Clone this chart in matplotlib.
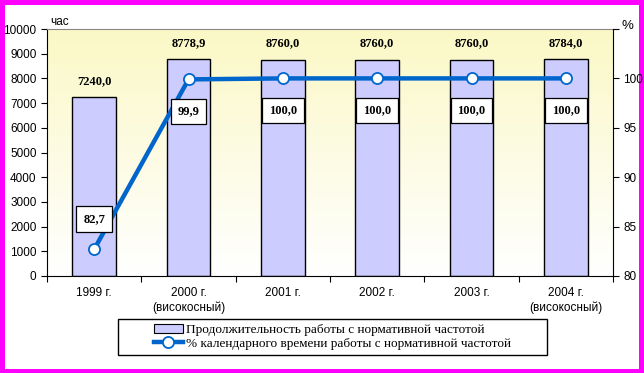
import numpy as np
import matplotlib.pyplot as plt
from matplotlib.patches import Rectangle, Patch
from matplotlib.lines import Line2D
from matplotlib.colors import LinearSegmentedColormap

years = ["1999 г.", "2000 г.\n(високосный)", "2001 г.", "2002 г.", "2003 г.", "2004 г.\n(високосный)"]
hours = [7240.0, 8778.9, 8760.0, 8760.0, 8760.0, 8784.0]
percent = [82.7, 99.9, 100.0, 100.0, 100.0, 100.0]
bar_labels = ["7240,0", "8778,9", "8760,0", "8760,0", "8760,0", "8784,0"]
pct_labels = ["82,7", "99,9", "100,0", "100,0", "100,0", "100,0"]

W, H = 644, 373
fig = plt.figure(figsize=(W / 100, H / 100), dpi=100)
fig.patch.set_facecolor("#FF00FF")
fig.patches.append(Rectangle((5 / W, 4 / H), (W - 10) / W, (H - 9) / H,
                             transform=fig.transFigure, facecolor="white",
                             edgecolor="none", zorder=-5))
# legend frame
fig.patches.append(Rectangle((118 / W, 1 - 355 / H), 429 / W, 36 / H,
                             transform=fig.transFigure, facecolor="white",
                             edgecolor="black", linewidth=1, zorder=-4))

left, right, top, bottom = 47, 613, 29, 276
ax = fig.add_axes([left / W, (H - bottom) / H, (right - left) / W, (bottom - top) / H])
ax2 = ax.twinx()

x = np.arange(len(years))

# pale yellow gradient background
cmap = LinearSegmentedColormap.from_list("bg", ["#FFFFFF", "#FBF8C6"])
grad = np.linspace(0, 1, 256).reshape(-1, 1)
ax.imshow(grad, cmap=cmap, origin="lower", aspect="auto",
          extent=(-0.5, 5.5, 0, 10000), zorder=0)

ax.bar(x, hours, width=0.465, color="#CCCCFF", edgecolor="black", linewidth=1, zorder=2)
for xi, h, lab in zip(x, hours, bar_labels):
    ax.annotate(lab, (xi, h), xytext=(0, 16), textcoords="offset pixels",
                ha="center", va="center", fontsize=9, fontweight="bold",
                family="Liberation Serif", zorder=5)

ax.set_xlim(-0.5, 5.5)
ax.set_ylim(0, 10000)
ax.set_yticks(range(0, 10001, 1000))
ax.set_xticks(np.arange(-0.5, 6, 1))
ax.set_xticklabels([])
ax.set_xticks(x, minor=True)
ax.set_xticklabels(years, minor=True, fontsize=8.5, family="Liberation Sans")
ax.tick_params(axis="x", which="major", length=4, direction="out")
ax.tick_params(axis="x", which="minor", length=0, pad=8)
ax.tick_params(axis="y", labelsize=8.5, length=4, direction="out")
for t in ax.get_yticklabels():
    t.set_family("Liberation Sans")
ax.spines["right"].set_visible(False)
ax.spines["top"].set_color("#888888")

ax2.plot(x, percent, color="#0066CC", linewidth=3.2, marker="o", markersize=8,
         markerfacecolor="white", markeredgecolor="#0066CC", markeredgewidth=1.3,
         zorder=4)
for i, (xi, p, lab) in enumerate(zip(x, percent, pct_labels)):
    dy = 30 if i == 0 else -32
    ax2.annotate(lab, (xi, p), xytext=(0, dy), textcoords="offset pixels",
                 ha="center", va="center", fontsize=9, fontweight="bold",
                 family="Liberation Serif",
                 bbox=dict(boxstyle="square,pad=0.55", fc="white", ec="black", lw=0.9),
                 zorder=6)
ax2.set_ylim(80, 105)
ax2.set_yticks([80, 85, 90, 95, 100, 105])
ax2.set_yticklabels(["80", "85", "90", "95", "100", ""])
ax2.tick_params(axis="y", labelsize=8.5, length=4, direction="out")
for t in ax2.get_yticklabels():
    t.set_family("Liberation Sans")
for s in ["top", "left", "bottom"]:
    ax2.spines[s].set_visible(False)
ax2.set_zorder(ax.get_zorder() + 1)
ax2.patch.set_visible(False)

fig.text(50 / W, 1 - 22 / H, "час", fontsize=8.5, family="Liberation Sans", va="center")
fig.text(622 / W, 1 - 26 / H, "%", fontsize=9.5, family="Liberation Sans", va="center")

handles = [
    Patch(facecolor="#CCCCFF", edgecolor="black", linewidth=0.8),
    Line2D([], [], color="#0066CC", linewidth=3.2, marker="o", markersize=8,
           markerfacecolor="white", markeredgecolor="#0066CC", markeredgewidth=1.3),
]
labels = ["Продолжительность работы с нормативной частотой",
          "% календарного времени работы с нормативной частотой"]
leg = fig.legend(handles, labels, loc="center left", bbox_to_anchor=(150 / W, 1 - 337 / H),
                 frameon=False, prop={"family": "Liberation Serif", "size": 9.5},
                 handlelength=2.2, handletextpad=0.2, labelspacing=0.1,
                 borderpad=0.3, borderaxespad=0)

fig.savefig("out.png", dpi=100)
